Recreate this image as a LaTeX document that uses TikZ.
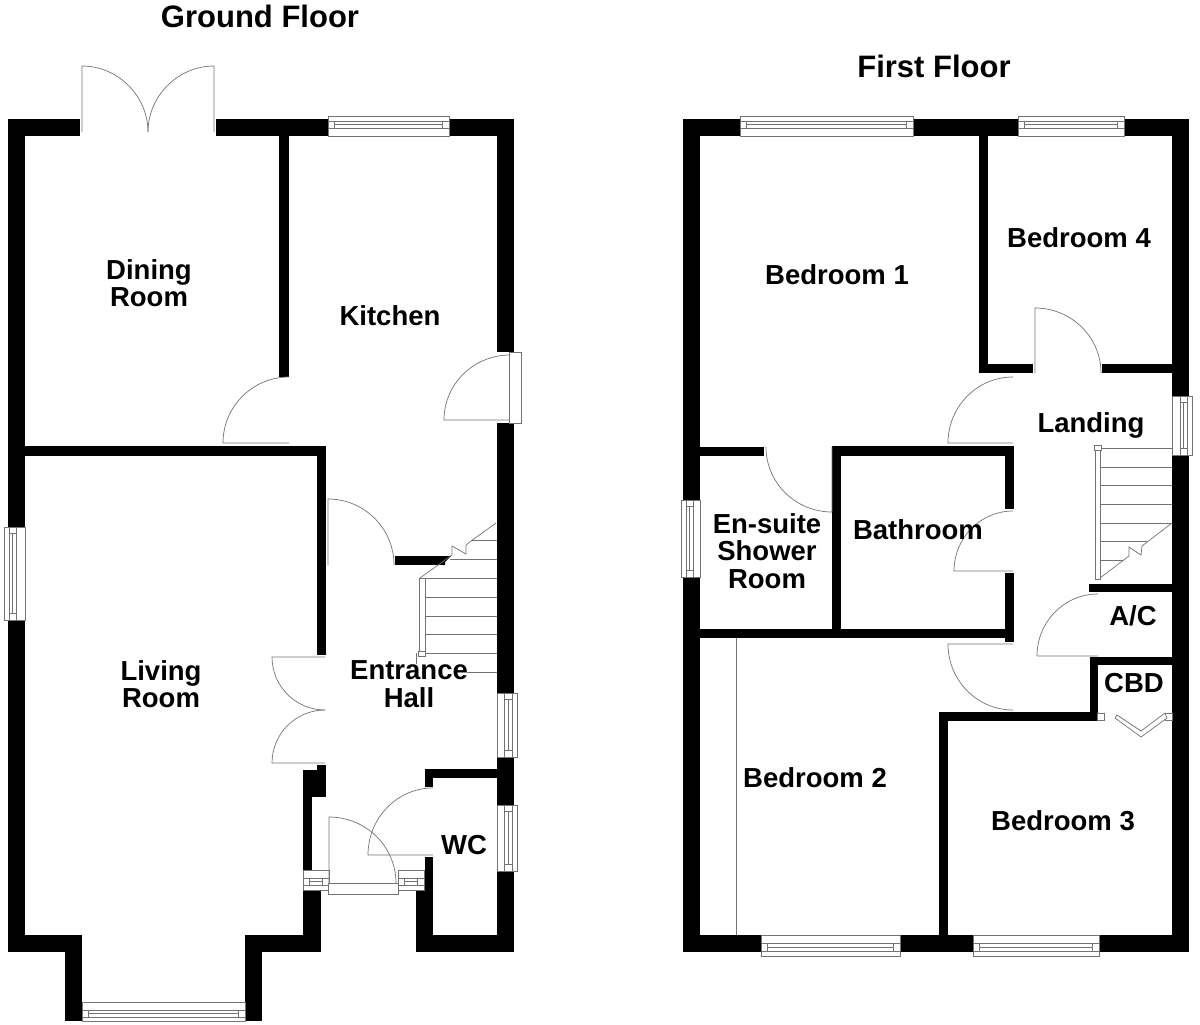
\documentclass[tikz,border=0pt]{standalone}
\usepackage{fontspec}
\setmainfont{Liberation Sans}
\usetikzlibrary{calc}
\newcommand{\leaf}[3]{%
  \coordinate (corner) at ($#2+#3-#1$);
  \draw[swing] #1 -- #2 .. controls ($#2!0.552!(corner)$) and ($#3!0.552!(corner)$) .. #3;}
\newcommand{\hwin}[6]{%
  \draw[glass] (#1,#3) rectangle (#2,#4);
  \draw[glass] (#1,#5) rectangle (#2,#6);
  \draw[tread] (#1+6.5,#5) -- (#1+6.5,#6);
  \draw[tread] (#2-6.5,#5) -- (#2-6.5,#6);
  \draw[tread] (#1+6.5,{(#5+#6)/2}) -- (#2-6.5,{(#5+#6)/2});}
\newcommand{\vwin}[6]{%
  \draw[glass] (#3,#1) rectangle (#4,#2);
  \draw[glass] (#5,#1) rectangle (#6,#2);
  \draw[tread] (#5,#1+6.5) -- (#6,#1+6.5);
  \draw[tread] (#5,#2-6.5) -- (#6,#2-6.5);
  \draw[tread] ({(#5+#6)/2},#1+6.5) -- ({(#5+#6)/2},#2-6.5);}

\begin{document}
\begin{tikzpicture}[x=1pt, y=-1pt,
    wall/.style={fill=black},
    swing/.style={draw=black!55, line width=0.7pt},
    glass/.style={draw=black!55, line width=0.7pt, fill=white},
    tread/.style={draw=black!55, line width=0.7pt},
    room/.style={font=\fontsize{27.5}{27.5}\selectfont\bfseries, align=center, inner sep=0pt, text=black},
    title/.style={font=\fontsize{31}{31}\selectfont\bfseries, inner sep=0pt, text=black}]
    \useasboundingbox (0,0) rectangle (1200,1025);

    % Ground floor outer walls
    \fill[wall] (8,119) rectangle (80,136);
    \fill[wall] (216,119) rectangle (514,136);
    \fill[wall] (8,119) rectangle (25,952);
    \fill[wall] (497,119) rectangle (514,352);
    \fill[wall] (497,423) rectangle (514,952);
    \fill[wall] (8,935) rectangle (82,952);
    \fill[wall] (65,935) rectangle (82,1021);
    \fill[wall] (245,935) rectangle (321,952);
    \fill[wall] (245,935) rectangle (262,1021);
    \fill[wall] (303,890) rectangle (321,952);
    \fill[wall] (303,770) rectangle (312,870);
    \fill[wall] (303,770) rectangle (326,797);
    \fill[wall] (317,765) rectangle (326,770);
    \fill[wall] (416,935) rectangle (514,952);
    \fill[wall] (416,890) rectangle (433,952);
    \fill[wall] (425,857) rectangle (433,890);

    % Ground floor inner walls
    \fill[wall] (279,136) rectangle (289,377);
    \fill[wall] (25,446) rectangle (326,456);
    \fill[wall] (317,446) rectangle (326,655);
    \fill[wall] (395,556) rectangle (445,565);
    \fill[wall] (445,556) -- (451,556) -- (442,565) -- (445,565) -- cycle;
    \fill[wall] (425,769) rectangle (497,778);
    \fill[wall] (425,769) rectangle (433,787);

    % Ground floor windows
    \hwin{328}{449}{116}{136}{121}{128}
    \vwin{527}{620}{4}{25}{9}{16}
    \vwin{693}{757}{497}{517}{504}{512}
    \vwin{805}{871}{497}{517}{504}{512}
    \hwin{82}{245}{1002}{1021.5}{1010}{1017}
    \hwin{303}{329}{870}{890}{878}{885}
    \hwin{398}{424}{870}{890}{878}{885}
    \draw[glass] (328,883) rectangle (398,894);
    \draw[glass] (509,352) rectangle (521,423);

    % Ground floor doors
    \draw[swing] (82,132) -- (82,66) .. controls (118,66) and (148,96) .. (148,132);
    \draw[swing] (214,132) -- (214,66) .. controls (178,66) and (148,96) .. (148,132);
    \leaf{(289,443)}{(223,443)}{(289,377)}
    \leaf{(510,420)}{(444,420)}{(510,355)}
    \leaf{(328,565)}{(328,499)}{(394,565)}
    \leaf{(325,657)}{(272,657)}{(325,710)}
    \leaf{(325,763)}{(272,763)}{(325,710)}
    \leaf{(329,883)}{(329,817)}{(396,883)}
    \leaf{(433,855)}{(368,855)}{(433,788)}

    % Ground floor stairs
    \foreach \ty/\tx in {540/471, 559/450, 578/420, 597/425, 616/425, 634/425, 653/425, 672/467}
        \draw[tread] (\tx,\ty) -- (497,\ty);
    \draw[tread] (496,523) -- (471,541) -- (466,545) -- (466,554) -- (452,546) -- (452,555) -- (420,578);
    \draw[glass] (419,578) rectangle (425,652);
    \draw[glass] (418,651) rectangle (425,656);
    \draw[tread] (416,653) -- (416,664);

    % First floor outer walls
    \fill[wall] (683,119) rectangle (1189,136);
    \fill[wall] (683,119) rectangle (700,952);
    \fill[wall] (1172,119) rectangle (1189,952);
    \fill[wall] (683,935) rectangle (1189,952);

    % First floor inner walls
    \fill[wall] (979,136) rectangle (988,373);
    \fill[wall] (979,364) rectangle (1033,373);
    \fill[wall] (1102,364) rectangle (1172,373);
    \fill[wall] (700,447) rectangle (764,456);
    \fill[wall] (832,446) rectangle (1014,456);
    \fill[wall] (832,446) rectangle (841,630);
    \fill[wall] (1005,446) rectangle (1014,509);
    \fill[wall] (1005,573) rectangle (1014,642);
    \fill[wall] (700,629) rectangle (1014,638);
    \fill[wall] (939,712) rectangle (1098,721);
    \fill[wall] (939,712) rectangle (948,935);
    \fill[wall] (1090,657) rectangle (1098,721);
    \fill[wall] (1090,657) rectangle (1172,665);
    \fill[wall] (1089,584) rectangle (1172,592);

    % First floor windows
    \hwin{740}{913}{116}{136}{121}{128}
    \hwin{1018}{1124}{116}{136}{121}{128}
    \vwin{500}{577}{681}{700}{686}{693}
    \vwin{396}{455}{1172}{1192}{1180}{1187}
    \hwin{761}{900}{935}{956}{943}{951}
    \hwin{973}{1099}{935}{956}{943}{951}

    % First floor doors
    \leaf{(1035,373)}{(1035,308)}{(1101,373)}
    \leaf{(1013,443)}{(948,443)}{(1013,377)}
    \leaf{(832,447)}{(832,512)}{(766,447)}
    \leaf{(1013,571)}{(954,571)}{(1013,511)}
    \leaf{(1098,656)}{(1037,656)}{(1098,594)}
    \leaf{(1013,644)}{(948,644)}{(1013,710)}

    % Cupboard folding doors
    \draw[glass] (1097,713) rectangle (1104,720);
    \draw[glass] (1165,713) rectangle (1172,720);
    \draw[glass] (1117,715) -- (1141,731) -- (1165,713) -- (1167,718) -- (1141,737) -- (1115,718) -- cycle;

    % First floor stairs
    \foreach \ty/\tx in {448/1172, 467/1172, 485/1172, 504/1172, 523/1172, 541/1147, 560/1123}
        \draw[tread] (1100,\ty) -- (\tx,\ty);
    \draw[tread] (1172,523) -- (1142,546) -- (1141,555) -- (1129,547) -- (1129,556) -- (1100,578);
    \draw[glass] (1095,450) rectangle (1100,579);
    \draw[glass] (1094,445) rectangle (1101,450);

    % Wardrobe line
    \draw[tread] (736,638) -- (736,935);

    % Titles
    \node[title] (groundtitle) at (260,16) {Ground Floor};
    \node[title] (firsttitle) at (934,66) {First Floor};

    % Room names
    \node[room] (dining) at (149,283) {Dining\\Room};
    \node[room] (kitchen) at (390,316) {Kitchen};
    \node[room] (living) at (161,684) {Living\\Room};
    \node[room] (hall) at (409,684) {Entrance\\Hall};
    \node[room] (wc) at (464,845) {WC};
    \node[room] (bedone) at (837,275) {Bedroom 1};
    \node[room] (bedfour) at (1079,238) {Bedroom 4};
    \node[room] (landing) at (1091,425) {Landing};
    \node[room] (ensuite) at (767,551) {En-suite\\Shower\\Room};
    \node[room] (bathroom) at (918,530) {Bathroom};
    \node[room] (airing) at (1133,616) {A/C};
    \node[room] (cupboard) at (1134,683) {CBD};
    \node[room] (bedtwo) at (815,778) {Bedroom 2};
    \node[room] (bedthree) at (1063,821) {Bedroom 3};
\end{tikzpicture}
\end{document}
